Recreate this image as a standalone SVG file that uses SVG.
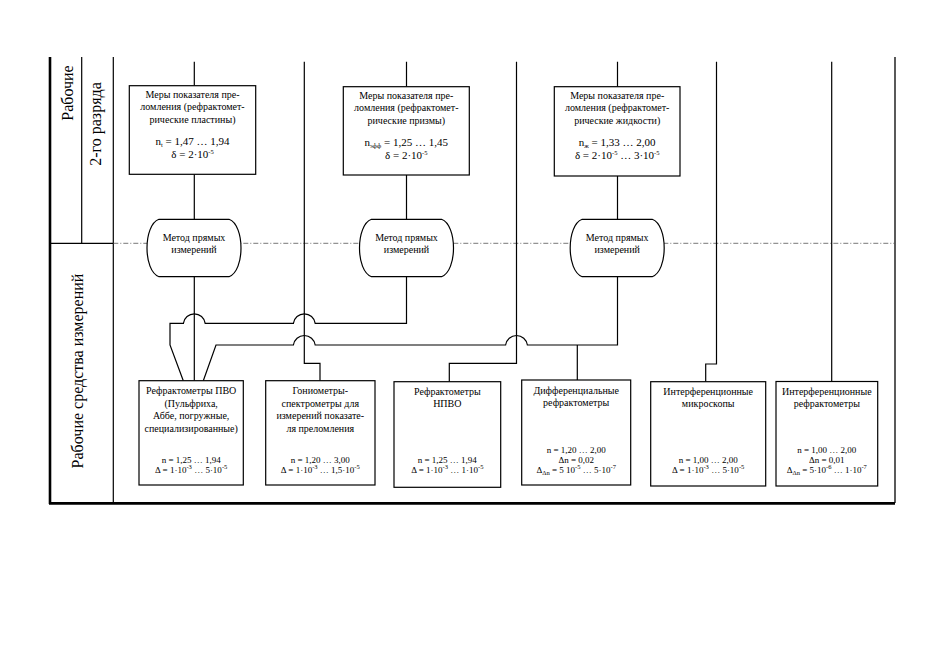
<svg xmlns="http://www.w3.org/2000/svg" width="936" height="661" viewBox="0 0 936 661">
<style>
.t{font-family:"Liberation Serif","Times New Roman",serif;font-size:10px;fill:#000;text-anchor:middle}
.v{font-size:11px}
.s{font-size:9px}
.lab{font-family:"Liberation Serif","Times New Roman",serif;font-size:16px;fill:#000;text-anchor:middle}
.box{fill:#fff;stroke:#000;stroke-width:1.2}
.ln{fill:none;stroke:#000;stroke-width:1.2}
.sup{font-size:6.5px}
</style>
<rect width="936" height="661" fill="#fff"/>
<g id="frame">
<line x1="50" y1="57" x2="50" y2="504" stroke="#000" stroke-width="2.6"/>
<line x1="49" y1="503.3" x2="895" y2="503.3" stroke="#000" stroke-width="2.8"/>
<line x1="895" y1="57" x2="895" y2="503" stroke="#000" stroke-width="1.3"/>
<line x1="81.7" y1="57" x2="81.7" y2="243.3" stroke="#000" stroke-width="1.2"/>
<line x1="113.3" y1="57" x2="113.3" y2="503" stroke="#000" stroke-width="1.2"/>
<line x1="50" y1="243.3" x2="113.3" y2="243.3" stroke="#000" stroke-width="1.2"/>
<line x1="113.3" y1="243.3" x2="895" y2="243.3" stroke="#555" stroke-width="0.8" stroke-dasharray="5,2,1,2"/>
<text class="lab" transform="translate(72.5,93) rotate(-90)">Рабочие</text>
<text class="lab" transform="translate(101,124) rotate(-90)">2-го разряда</text>
<text class="lab" transform="translate(83,371) rotate(-90)">Рабочие средства измерений</text>
</g>
<g id="connectors" class="ln">
<path d="M194.3,61.7V85.7M194.3,174.3V219.3M194.3,276.7V380.7"/>
<path d="M406.5,61.7V86.7M406.5,175V219.3"/>
<path d="M406.5,276.7V323.3H315.2A11,11 0 0 0 293.4,323.3H205.2A11,11 0 0 0 183.4,323.3H170V345L183.3,380.7"/>
<path d="M617.5,61.7V86.7M617.5,176V219.3"/>
<path d="M617.5,276.7V345H527.4A11,11 0 0 0 505.6,345H315.2A11,11 0 0 0 293.4,345H216L203.3,380.7"/>
<path d="M577.3,345V380"/>
<path d="M304.3,61.7V363.3H320V380.7"/>
<path d="M516.5,61.7V363.3H449.3V381.7"/>
<path d="M716.5,61.7V364H705.7V381.7"/>
<path d="M831.7,61.7V381.5"/>
</g>
<g id="top1">
<rect class="box" x="129.3" y="85.7" width="126.4" height="88.6"/>
<text class="t" x="192.5" y="97.5">Меры показателя пре-</text>
<text class="t" x="192.5" y="110">ломления (рефрактомет-</text>
<text class="t" x="192.5" y="122.5">рические пластины)</text>
<text class="t v" x="192.5" y="145">n<tspan class="sup" dy="2">t</tspan><tspan dy="-2"> = 1,47 … 1,94</tspan></text>
<text class="t v" x="192.5" y="157.5">δ = 2·10<tspan class="sup" dy="-4">-5</tspan></text>
</g>
<g id="top2">
<rect class="box" x="343.3" y="86.7" width="126" height="88.3"/>
<text class="t" x="406.3" y="98.5">Меры показателя пре-</text>
<text class="t" x="406.3" y="111">ломления (рефрактомет-</text>
<text class="t" x="406.3" y="123.5">рические призмы)</text>
<text class="t v" x="406.3" y="146">n<tspan class="sup" dy="2">эфф</tspan><tspan dy="-2"> = 1,25 … 1,45</tspan></text>
<text class="t v" x="406.3" y="158.5">δ = 2·10<tspan class="sup" dy="-4">-5</tspan></text>
</g>
<g id="top3">
<rect class="box" x="554.3" y="86.7" width="125.7" height="89.3"/>
<text class="t" x="617.2" y="98.5">Меры показателя пре-</text>
<text class="t" x="617.2" y="111">ломления (рефрактомет-</text>
<text class="t" x="617.2" y="123.5">рические жидкости)</text>
<text class="t v" x="617.2" y="146">n<tspan class="sup" dy="2">ж</tspan><tspan dy="-2"> = 1,33 … 2,00</tspan></text>
<text class="t v" x="617.2" y="158.5">δ = 2·10<tspan class="sup" dy="-4">-5</tspan><tspan dy="4"> … 3·10</tspan><tspan class="sup" dy="-4">-5</tspan></text>
</g>
<g id="method1">
<path class="box" d="M159,219.3H229C245,225 245,271 229,276.7H159C143,271 143,225 159,219.3Z"/>
<text class="t" x="194" y="240.5">Метод прямых</text>
<text class="t" x="194" y="252.5">измерений</text>
</g>
<g id="method2">
<path class="box" d="M371.5,219.3H441.5C457.5,225 457.5,271 441.5,276.7H371.5C355.5,271 355.5,225 371.5,219.3Z"/>
<text class="t" x="406.5" y="240.5">Метод прямых</text>
<text class="t" x="406.5" y="252.5">измерений</text>
</g>
<g id="method3">
<path class="box" d="M582.2,219.3H652.2C668.2,225 668.2,271 652.2,276.7H582.2C566.2,271 566.2,225 582.2,219.3Z"/>
<text class="t" x="617.2" y="240.5">Метод прямых</text>
<text class="t" x="617.2" y="252.5">измерений</text>
</g>
<g id="pvo">
<rect class="box" x="139" y="380.7" width="104.3" height="104.3"/>
<text class="t" x="191.2" y="394">Рефрактометры ПВО</text>
<text class="t" x="191.2" y="406.5">(Пульфриха,</text>
<text class="t" x="191.2" y="419">Аббе, погружные,</text>
<text class="t" x="191.2" y="431.5">специализированные)</text>
<text class="t s" x="191.2" y="462.5">n = 1,25 … 1,94</text>
<text class="t s" x="191.2" y="472.5">Δ = 1·10<tspan class="sup" dy="-3.5">-3</tspan><tspan dy="3.5"> … 5·10</tspan><tspan class="sup" dy="-3.5">-5</tspan></text>
</g>
<g id="gonio">
<rect class="box" x="265.7" y="380.7" width="109.3" height="104.3"/>
<text class="t" x="320.3" y="394">Гониометры-</text>
<text class="t" x="320.3" y="406.5">спектрометры для</text>
<text class="t" x="320.3" y="419">измерений показате-</text>
<text class="t" x="320.3" y="431.5">ля преломления</text>
<text class="t s" x="320.3" y="462.5">n = 1,20 … 3,00</text>
<text class="t s" x="320.3" y="472.5">Δ = 1·10<tspan class="sup" dy="-3.5">-3</tspan><tspan dy="3.5"> … 1,5·10</tspan><tspan class="sup" dy="-3.5">-5</tspan></text>
</g>
<g id="npvo">
<rect class="box" x="394" y="381.7" width="106.7" height="105.6"/>
<text class="t" x="447.3" y="395">Рефрактометры</text>
<text class="t" x="447.3" y="407">НПВО</text>
<text class="t s" x="447.3" y="462.5">n = 1,25 … 1,94</text>
<text class="t s" x="447.3" y="472.5">Δ = 1·10<tspan class="sup" dy="-3.5">-3</tspan><tspan dy="3.5"> … 1·10</tspan><tspan class="sup" dy="-3.5">-5</tspan></text>
</g>
<g id="diff">
<rect class="box" x="521.7" y="380" width="109" height="105"/>
<text class="t" x="576.2" y="394">Дифференциальные</text>
<text class="t" x="576.2" y="406">рефрактометры</text>
<text class="t s" x="576.2" y="452.5">n = 1,20 … 2,00</text>
<text class="t s" x="576.2" y="462.5">Δn = 0,02</text>
<text class="t s" x="576.2" y="472.5">Δ<tspan class="sup" dy="2">Δn</tspan><tspan dy="-2"> = 5 10</tspan><tspan class="sup" dy="-3.5">-5</tspan><tspan dy="3.5"> … 5·10</tspan><tspan class="sup" dy="-3.5">-7</tspan></text>
</g>
<g id="imicro">
<rect class="box" x="650.7" y="381.7" width="115" height="104.3"/>
<text class="t" x="708.2" y="394.5">Интерференционные</text>
<text class="t" x="708.2" y="406.5">микроскопы</text>
<text class="t s" x="708.2" y="462.5">n = 1,00 … 2,00</text>
<text class="t s" x="708.2" y="472.5">Δ = 1·10<tspan class="sup" dy="-3.5">-3</tspan><tspan dy="3.5"> … 5·10</tspan><tspan class="sup" dy="-3.5">-5</tspan></text>
</g>
<g id="irefr">
<rect class="box" x="776" y="381.5" width="101.7" height="104.5"/>
<text class="t" x="826.8" y="394.5">Интерференционные</text>
<text class="t" x="826.8" y="406.5">рефрактометры</text>
<text class="t s" x="826.8" y="452.5">n = 1,00 … 2,00</text>
<text class="t s" x="826.8" y="462.5">Δn = 0,01</text>
<text class="t s" x="826.8" y="472.5">Δ<tspan class="sup" dy="2">Δn</tspan><tspan dy="-2"> = 5·10</tspan><tspan class="sup" dy="-3.5">-6</tspan><tspan dy="3.5"> … 1·10</tspan><tspan class="sup" dy="-3.5">-7</tspan></text>
</g>
</svg>
